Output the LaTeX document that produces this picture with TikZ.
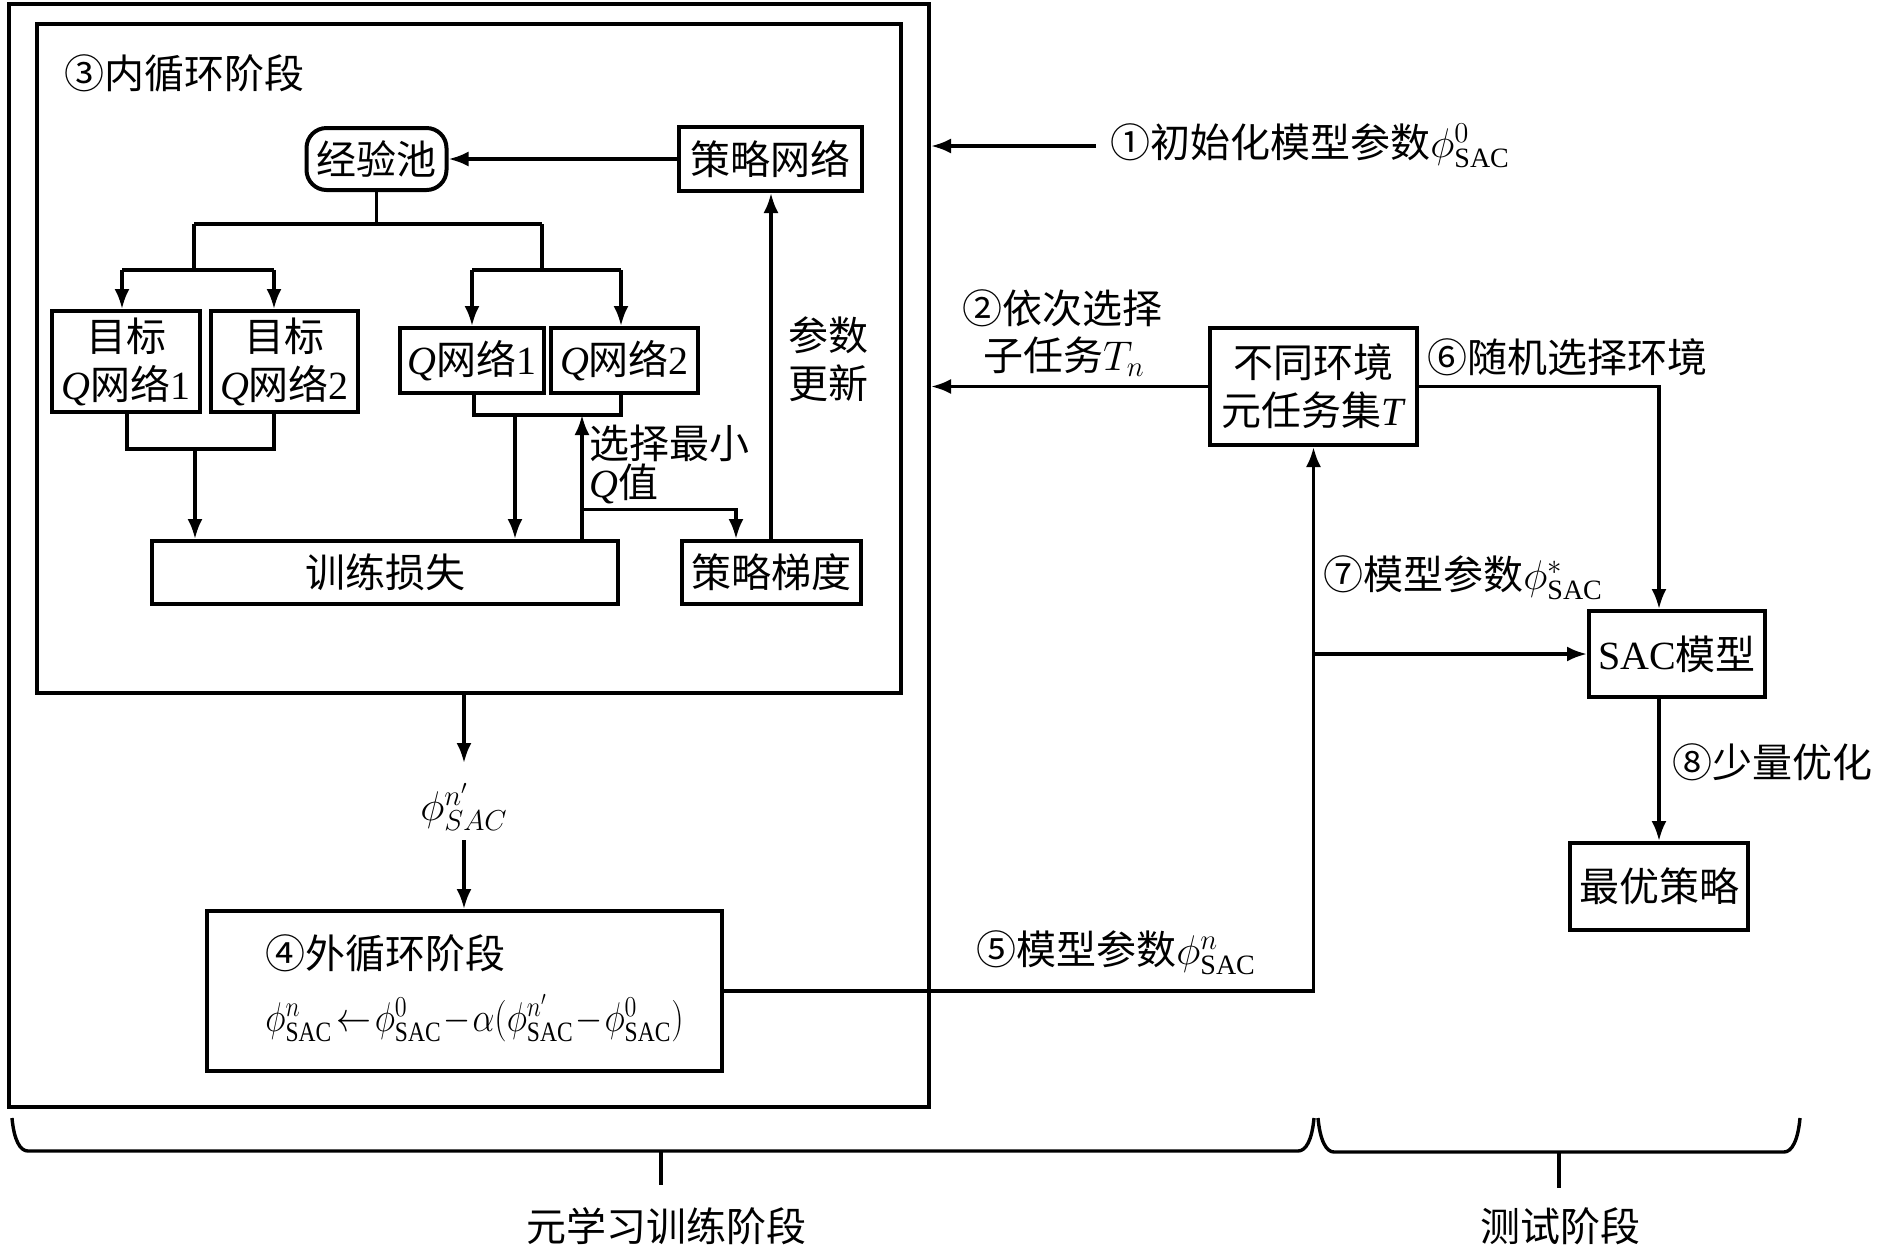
\documentclass[tikz,border=0pt]{standalone}
\usepackage{graphicx}
\usepackage{fontspec}
\setmainfont{Liberation Serif}
\newfontfamily\cjk{Noto Sans CJK SC}
\usetikzlibrary{arrows.meta,calc}
\newcommand\mysz{\fontsize{20}{24}\selectfont}
\newcommand\Sac{_{\mathrm{SAC}}}
\begin{document}
\begin{tikzpicture}[x=0.5pt,y=-0.5pt,
  every node/.append style={font=\mysz},
  box/.style={draw, line width=2pt, inner sep=0pt, align=center},
  frame/.style={draw, line width=2pt, inner sep=0pt},
  ln/.style={line width=1.7pt},
  arr/.style={line width=1.7pt, -{Latex[length=10pt,width=7.5pt]}},
  lbl/.style={inner sep=0pt, anchor=west},
  clbl/.style={inner sep=0pt, align=center},
  brace/.style={line width=1.7pt}]
\useasboundingbox (0,0) rectangle (1890,1250);

% frames
\node[frame, minimum width=460pt, minimum height=551.5pt] (outer) at (469,555.5) {};
\node[frame, minimum width=432pt, minimum height=334.5pt] (inner) at (469,358.5) {};
\node[lbl] (t3) at (64,73) {\cjk ③内循环阶段};

% inner nodes
\node[box, rounded corners=10pt, minimum width=70pt, minimum height=31pt] (pool) at (376.5,159) {\cjk 经验池};
\node[box, minimum width=91.5pt, minimum height=32pt] (policy) at (770,159) {\cjk 策略网络};
\node[box, minimum width=74pt, minimum height=50.5pt] (tq1) at (126,361.5) {\cjk 目标\\\textit{Q}{\cjk 网络}1};
\node[box, minimum width=73.5pt, minimum height=50.5pt] (tq2) at (284.5,361.5) {\cjk 目标\\\textit{Q}{\cjk 网络}2};
\node[box, minimum width=72pt, minimum height=32.5pt] (q1) at (472,360.5) {\textit{Q}{\cjk 网络}1};
\node[box, minimum width=73.5pt, minimum height=32.5pt] (q2) at (624.5,360.5) {\textit{Q}{\cjk 网络}2};
\node[box, minimum width=233pt, minimum height=31.5pt] (loss) at (385,572.5) {\cjk 训练损失};
\node[box, minimum width=89.5pt, minimum height=31.5pt] (grad) at (771,572.5) {\cjk 策略梯度};

\node[lbl] (sel1) at (589,443) {\cjk 选择最小};
\node[lbl] (sel2) at (589,484) {\textit{Q}\cjk 值};
\node[clbl] (upd) at (828,359) {\cjk 参数\\\cjk 更新};

% inner connectors
\draw[arr] (policy.west) -- (pool.east);
\coordinate (hL) at (194,224);
\coordinate (hR) at (542,224);
\draw[ln] (pool.south) -- (pool.south |- hL);
\draw[ln] (hL) -- (hR);
\coordinate (aL) at (194,270);
\coordinate (aL1) at (122,270);
\coordinate (aL2) at (274,270);
\draw[ln] (hL) -- (aL);
\draw[ln] (aL1) -- (aL2);
\draw[arr] (aL1) -- (aL1 |- tq1.north);
\draw[arr] (aL2) -- (aL2 |- tq2.north);
\coordinate (aR) at (542,270);
\coordinate (aR1) at (472,270);
\coordinate (aR2) at (621,270);
\draw[ln] (hR) -- (aR);
\draw[ln] (aR1) -- (aR2);
\draw[arr] (aR1) -- (aR1 |- q1.north);
\draw[arr] (aR2) -- (aR2 |- q2.north);

\coordinate (bL1) at (127,449);
\coordinate (bL2) at (274,449);
\coordinate (bL) at (195,449);
\draw[ln] (bL1 |- tq1.south) -- (bL1) -- (bL2) -- (bL2 |- tq2.south);
\draw[arr] (bL) -- (bL |- loss.north);
\coordinate (bR1) at (474,415);
\coordinate (bR2) at (621,415);
\coordinate (bR) at (515,415);
\draw[ln] (bR1 |- q1.south) -- (bR1) -- (bR2) -- (bR2 |- q2.south);
\draw[arr] (bR) -- (bR |- loss.north);
\coordinate (sel) at (582,415);
\draw[arr] (sel |- loss.north) -- (sel);
\coordinate (sg1) at (582,509.5);
\coordinate (sg2) at (736,509.5);
\draw[arr] (sg1) -- (sg2) -- (sg2 |- grad.north);
\draw[arr] (grad.north) -- (grad.north |- policy.south);

% outer loop
\node[clbl] (phin) at (464,807) {$\phi^{n'}_{SAC}$};
\coordinate (p1) at (464,763);
\coordinate (p2) at (464,840);
\node[box, minimum width=257.5pt, minimum height=80pt] (outerloop) at (464.5,991) {};
\draw[arr] (p1 |- inner.south) -- (p1);
\draw[arr] (p2) -- (p2 |- outerloop.north);
\node[lbl] (t4) at (265,953) {\cjk ④外循环阶段};
\node[lbl] (form) at (265,1018) {\scalebox{0.84}[1]{$\phi^n\Sac\!\leftarrow\!\phi^0\Sac\!-\!\alpha(\phi^{n'}\Sac\!-\!\phi^0\Sac)$}};

% right side
\node[box, minimum width=103.5pt, minimum height=58.5pt] (env) at (1313.5,386.5) {\cjk 不同环境\\{\cjk 元任务集}\textit{T}};
\node[box, minimum width=88pt, minimum height=43pt] (sac) at (1677,654) {SAC\cjk 模型};
\node[box, minimum width=89pt, minimum height=43.5pt] (best) at (1659,886.5) {\cjk 最优策略};

\node[lbl] (l1) at (1110,146) {{\cjk ①初始化模型参数}$\phi^0\Sac$};
\coordinate (a1) at (1096,146);
\draw[arr] (a1) -- (a1 -| outer.east);
\node[clbl] (l2a) at (1062,308) {\cjk ②依次选择};
\node[clbl] (l2b) at (1064,357) {{\cjk 子任务}$T_n$};
\draw[arr] (env.west) -- (env.west -| outer.east);
\node[lbl] (l6) at (1427,357) {\cjk ⑥随机选择环境};
\coordinate (c6) at (1659,386.5);
\draw[arr] (env.east) -- (c6) -- (c6 |- sac.north);
\coordinate (c5) at (1313.5,991);
\draw[arr] (outerloop.east) -- (c5) -- (c5 |- env.south);
\node[lbl] (l5) at (976,953) {{\cjk ⑤模型参数}$\phi^n\Sac$};
\coordinate (c7) at (1313.5,654);
\draw[arr] (c7) -- (sac.west);
\node[lbl] (l7) at (1323,578) {{\cjk ⑦模型参数}$\phi^*\Sac$};
\draw[arr] (c6 |- sac.south) -- (c6 |- best.north);
\node[lbl] (l8) at (1672,762) {\cjk ⑧少量优化};

% braces
\draw[brace] (12,1118) .. controls (14,1140) and (20,1151) .. (28,1151) -- (1298,1151) .. controls (1306,1151) and (1312,1140) .. (1314,1118);
\draw[brace] (661,1151) -- (661,1185);
\draw[brace] (1318,1118) .. controls (1320,1140) and (1326,1152) .. (1334,1152) -- (1784,1152) .. controls (1792,1152) and (1798,1140) .. (1800,1118);
\draw[brace] (1559,1152) -- (1559,1188);
\node[clbl] (m1) at (666,1226) {\cjk 元学习训练阶段};
\node[clbl] (m2) at (1560,1226) {\cjk 测试阶段};
\end{tikzpicture}
\end{document}
